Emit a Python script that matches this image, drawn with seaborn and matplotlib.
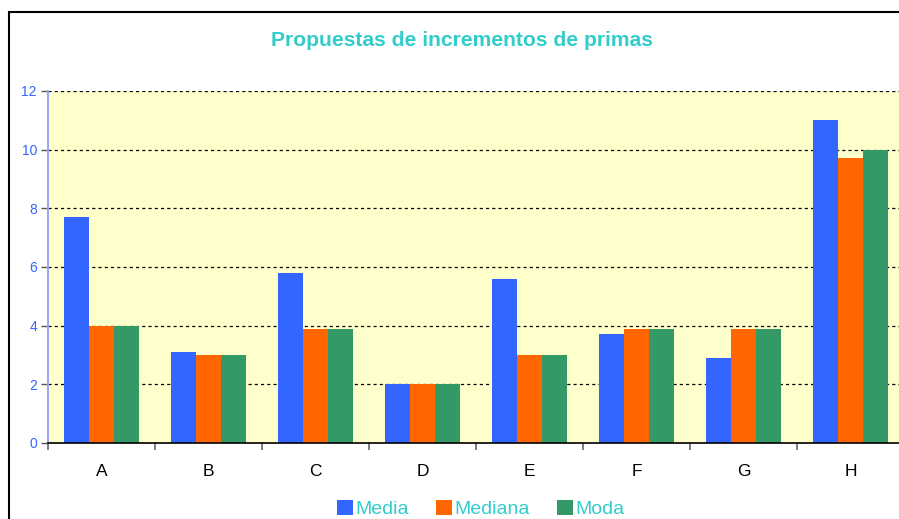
import matplotlib
matplotlib.use("Agg")
import matplotlib.pyplot as plt
import matplotlib.patches as mpatches
from matplotlib.ticker import FixedLocator
import seaborn as sns
import pandas as pd

categories = ["A", "B", "C", "D", "E", "F", "G", "H"]
media = [7.7, 3.1, 5.8, 2.0, 5.6, 3.7, 2.9, 11.0]
mediana = [4.0, 3.0, 3.9, 2.0, 3.0, 3.9, 3.9, 9.7]
moda = [4.0, 3.0, 3.9, 2.0, 3.0, 3.9, 3.9, 10.0]
series_names = ["Media", "Mediana", "Moda"]
colors = ["#3366FF", "#FF6600", "#339966"]
title = "Propuestas de incrementos de primas"
yticks = [0, 2, 4, 6, 8, 10, 12]

df = pd.DataFrame({
    "cat": categories * 3,
    "val": media + mediana + moda,
    "serie": [series_names[0]] * 8 + [series_names[1]] * 8 + [series_names[2]] * 8,
})

sns.set_theme(style="white")
plt.rcParams["font.family"] = ["Liberation Sans", "DejaVu Sans"]

W, H = 899, 519
fig = plt.figure(figsize=(W / 100, H / 100), dpi=100)
fig.patch.set_facecolor("white")

# outer border
fig.patches.append(mpatches.Rectangle((9 / W, -0.1), 1.2, (H - 12) / H + 0.1,
                                      transform=fig.transFigure, fill=False,
                                      edgecolor="black", linewidth=1.5, zorder=0))

left, right, top, bottom = 48, 904, 91, 443
ax = fig.add_axes([left / W, (H - bottom) / H, (right - left) / W, (bottom - top) / H])
ax.set_facecolor("#FFFFCC")

sns.barplot(data=df, x="cat", y="val", hue="serie", palette=colors, width=0.7,
            ax=ax, legend=False, saturation=1, edgecolor="none", linewidth=0)

ax.set_ylim(0, 12)
ax.set_xlim(-0.5, 7.5)
ax.set_yticks(yticks)
ax.set_yticklabels([str(t) for t in yticks], color="#3366FF", fontsize=10)
ax.tick_params(axis="y", length=5, width=1, color="#555555", pad=3, left=True)
ax.tick_params(axis="x", which="major", length=0, labelsize=12.5, pad=15, labelcolor="black")
ax.xaxis.set_minor_locator(FixedLocator([i - 0.5 for i in range(len(categories) + 1)]))
ax.tick_params(axis="x", which="minor", length=5, width=1.2, color="#666666", bottom=True)
ax.set_xlabel("")
ax.set_ylabel("")

ax.grid(axis="y", color="black", linestyle=(0, (2.5, 2.5)), linewidth=0.9)
ax.set_axisbelow(True)
for s in ["top", "right"]:
    ax.spines[s].set_visible(False)
ax.spines["left"].set_color("#99AAEE")
ax.spines["left"].set_linewidth(1.5)
ax.spines["bottom"].set_color("black")
ax.spines["bottom"].set_linewidth(1.2)

fig.text(461.5 / W, 1 - 40 / H, title, ha="center", va="center", fontsize=15.2,
         fontweight="bold", color="#33CCCC")

handles = [mpatches.Patch(facecolor=c, edgecolor="none") for c in colors]
leg = fig.legend(handles, series_names, loc="center", bbox_to_anchor=(481 / W, 1 - 509 / H),
                 ncol=3, frameon=False, fontsize=14, handlelength=0.8, handleheight=0.8,
                 handletextpad=0.15, columnspacing=1.4)
for t in leg.get_texts():
    t.set_color("#33CCCC")

fig.savefig("out.png", dpi=100)
